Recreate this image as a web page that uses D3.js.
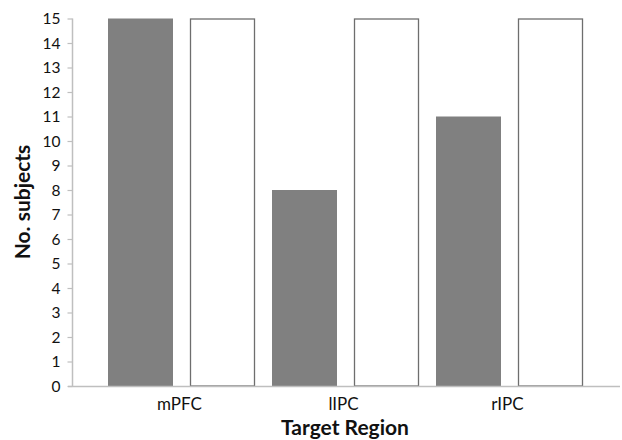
<!DOCTYPE html>
<html><head><meta charset="utf-8">
<script src="https://cdn.jsdelivr.net/npm/d3@7"></script>
<style>body{margin:0;background:#fff}svg{display:block}</style>
</head><body><svg id="c" width="622" height="440"></svg>
<script>
const categories = ["mPFC", "lIPC", "rIPC"];
const series1 = [15, 8, 11];
const series2 = [15, 15, 15];
const yTicks = [0,1,2,3,4,5,6,7,8,9,10,11,12,13,14,15];

const svg = d3.select("#c");
const font = "Lato, 'Open Sans', sans-serif";
const y = d3.scaleLinear().domain([0,15]).range([386, 18.5]);
const x = d3.scaleBand().domain(categories).range([99.5, 591.5]).paddingInner(0).paddingOuter(0);
const inner = d3.scaleBand().domain([0,1]).range([8.5, x.bandwidth()-8.5]).paddingInner(17/82);

// axes
const yAxis = d3.axisLeft(y).tickValues(yTicks).tickSize(5).tickPadding(7).tickFormat(d3.format("d"));
const gy = svg.append("g").attr("transform","translate(72.5,0)").call(yAxis);
gy.select(".domain").attr("stroke","#bfbfbf").attr("stroke-width",1.5).attr("d","M0,"+y(15)+"V"+y(0));
gy.selectAll(".tick line").attr("stroke","#bfbfbf").attr("stroke-width",1.2);
gy.selectAll(".tick text").attr("font-family",font).attr("font-size",15.5).attr("fill","#111").attr("dy","0.34em");

// bars
const g = svg.append("g");
categories.forEach((c,i)=>{
  g.append("rect").attr("x", x(c)+inner(0)).attr("width", inner.bandwidth())
    .attr("y", y(series1[i])).attr("height", y(0)-y(series1[i]))
    .attr("fill","#808080");
  g.append("rect").attr("x", x(c)+inner(1)+0.5).attr("width", inner.bandwidth()-1)
    .attr("y", y(series2[i])+0.5).attr("height", y(0)-y(series2[i])-0.5)
    .attr("fill","#fff").attr("stroke","#6e6e6e").attr("stroke-width",1.3);
});

// x axis line
svg.append("line").attr("x1",68).attr("x2",620).attr("y1",386.5).attr("y2",386.5)
  .attr("stroke","#bfbfbf").attr("stroke-width",1.5);

// category labels
svg.append("g").selectAll("text").data(categories).join("text")
  .attr("x", d=>x(d)+x.bandwidth()/2 - 2).attr("y", 410)
  .attr("text-anchor","middle").attr("font-family",font).attr("font-size",17).attr("fill","#111")
  .text(d=>d);

// titles
svg.append("text").attr("x",345).attr("y",435).attr("text-anchor","middle")
  .attr("font-family",font).attr("font-size",21).attr("font-weight","bold").attr("fill","#111").text("Target Region");
svg.append("text").attr("transform","translate(30,202) rotate(-90)").attr("text-anchor","middle")
  .attr("font-family",font).attr("font-size",21).attr("font-weight","bold").attr("fill","#111").text("No. subjects");
</script></body></html>
